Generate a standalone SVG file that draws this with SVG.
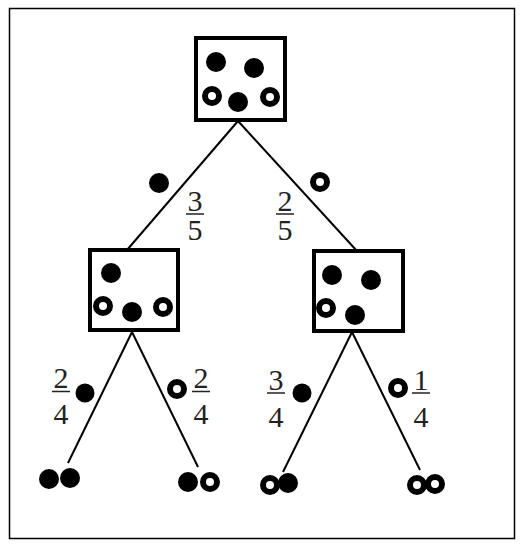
<svg xmlns="http://www.w3.org/2000/svg" width="524" height="546" viewBox="0 0 524 546">
<style>
.box{fill:none;stroke:#000;stroke-width:4}
.f{fill:#000}
.o{fill:#fff;stroke:#000;stroke-width:6}
.ln{stroke:#000;stroke-width:2;fill:none}
.bar{stroke:#222;stroke-width:1.5}
text{font-family:"Liberation Serif","Times New Roman",serif;font-size:30px;fill:#222;text-anchor:middle}
</style>
<rect x="9.5" y="8.5" width="505" height="530" fill="#fff" stroke="#000" stroke-width="1.5"/>
<g id="connectors">
<line class="ln" x1="238" y1="121" x2="127" y2="250"/>
<line class="ln" x1="238" y1="121" x2="357" y2="251"/>
<line class="ln" x1="132" y1="332" x2="68" y2="463"/>
<line class="ln" x1="132" y1="332" x2="198" y2="467"/>
<line class="ln" x1="352" y1="332" x2="283" y2="472"/>
<line class="ln" x1="352" y1="332" x2="420" y2="470"/>
</g>
<g id="top">
<rect class="box" x="196" y="38" width="89" height="82"/>
<circle class="f" cx="216" cy="62" r="10"/>
<circle class="f" cx="254" cy="68" r="10"/>
<circle class="o" cx="212" cy="96" r="7"/>
<circle class="f" cx="238" cy="102" r="10"/>
<circle class="o" cx="270" cy="97" r="7"/>
</g>
<g id="left">
<rect class="box" x="90" y="250" width="88" height="80"/>
<circle class="f" cx="111" cy="273" r="10"/>
<circle class="o" cx="103" cy="306" r="7"/>
<circle class="f" cx="132" cy="312" r="10"/>
<circle class="o" cx="163" cy="307" r="7"/>
</g>
<g id="right">
<rect class="box" x="314" y="251" width="89" height="80"/>
<circle class="f" cx="332" cy="275" r="10"/>
<circle class="f" cx="371" cy="280" r="10"/>
<circle class="o" cx="326" cy="308" r="7"/>
<circle class="f" cx="355" cy="315" r="10"/>
</g>
<g id="label-top-left">
<circle class="f" cx="159" cy="183" r="10"/>
<text x="195" y="211">3</text>
<line class="bar" x1="186" y1="214" x2="204" y2="214"/>
<text x="195" y="240">5</text>
</g>
<g id="label-top-right">
<circle class="o" cx="320" cy="182" r="7"/>
<text x="285" y="211">2</text>
<line class="bar" x1="276" y1="214" x2="294" y2="214"/>
<text x="285" y="240">5</text>
</g>
<g id="label-ll">
<text x="61" y="388">2</text>
<line class="bar" x1="52" y1="391.5" x2="70" y2="391.5"/>
<text x="61" y="424">4</text>
<circle class="f" cx="85" cy="393" r="9.5"/>
</g>
<g id="label-lr">
<circle class="o" cx="177" cy="389" r="7"/>
<text x="201" y="388">2</text>
<line class="bar" x1="192" y1="391.5" x2="210" y2="391.5"/>
<text x="201" y="424">4</text>
</g>
<g id="label-rl">
<text x="276" y="390">3</text>
<line class="bar" x1="267" y1="393" x2="285" y2="393"/>
<text x="276" y="427">4</text>
<circle class="f" cx="302" cy="393" r="9.5"/>
</g>
<g id="label-rr">
<circle class="o" cx="398" cy="388" r="7"/>
<text x="421" y="390">1</text>
<line class="bar" x1="412" y1="393" x2="430" y2="393"/>
<text x="421" y="427">4</text>
</g>
<g id="leaf-bb">
<circle class="f" cx="49" cy="479" r="10"/>
<circle class="f" cx="70" cy="478" r="10"/>
</g>
<g id="leaf-bo">
<circle class="f" cx="188" cy="482" r="10"/>
<circle class="o" cx="210" cy="482" r="7"/>
</g>
<g id="leaf-ob">
<circle class="o" cx="270" cy="485" r="7"/>
<circle class="f" cx="288" cy="483" r="10"/>
</g>
<g id="leaf-oo">
<circle class="o" cx="417" cy="485" r="7"/>
<circle class="o" cx="435" cy="484" r="7"/>
</g>
</svg>
